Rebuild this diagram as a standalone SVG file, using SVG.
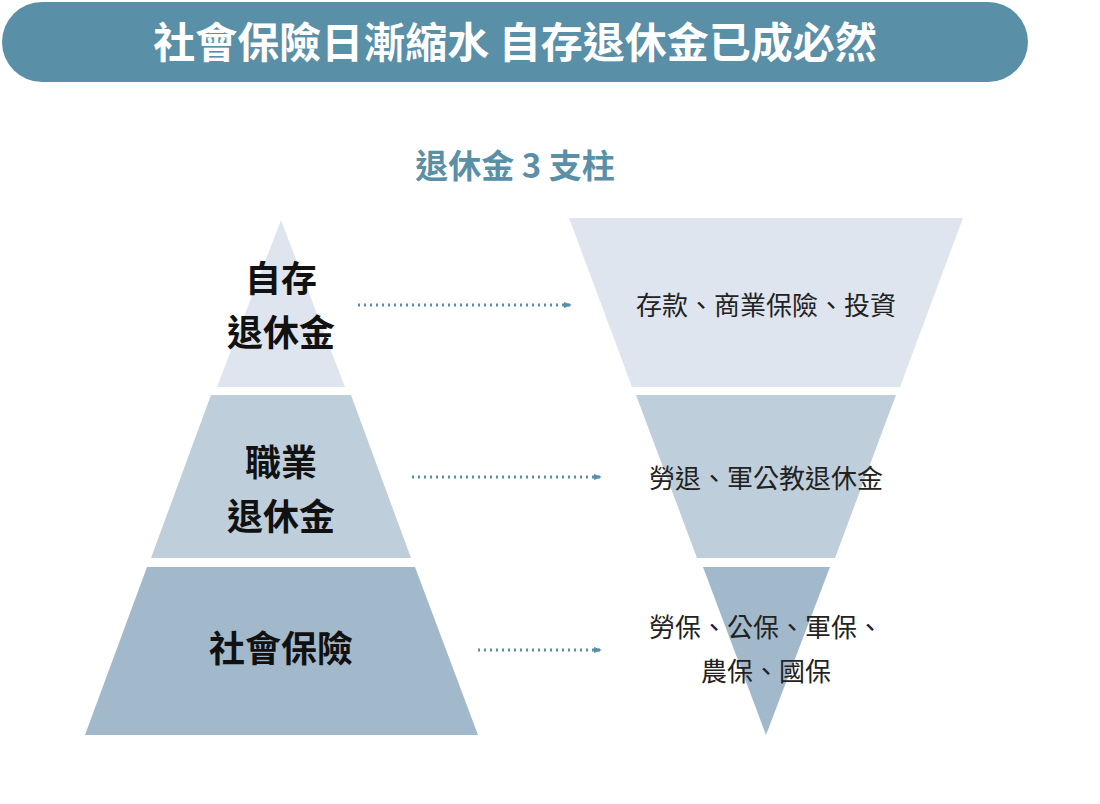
<svg xmlns="http://www.w3.org/2000/svg" width="1100" height="804" viewBox="0 0 1100 804">
<style>
text{font-family:"Noto Sans CJK TC","Noto Sans CJK SC",sans-serif;text-anchor:middle}
.l{font-size:36px;font-weight:bold;fill:#111}
.r{font-size:26px;fill:#222}
.c{stroke:#5a8fa8;stroke-width:3;stroke-dasharray:2 4;fill:none}
</style>
<defs><marker id="a" viewBox="0 0 10 10" refX="10" refY="5" markerWidth="8" markerHeight="6" markerUnits="userSpaceOnUse" orient="auto" preserveAspectRatio="none"><path d="M0 0L10 5L0 10z" fill="#5a8fa8"/></marker></defs>
<rect width="1100" height="804" fill="#fff"/>
<g id="title"><rect x="2" y="2" width="1026" height="80" rx="40" fill="#5a8fa8"/>
<text x="515" y="58" style="font-size:42px;font-weight:bold;fill:#fff">社會保險日漸縮水 自存退休金已成必然</text></g>
<g id="subtitle"><text x="515" y="178" style="font-size:33px;font-weight:bold;fill:#5a8fa8">退休金 3 支柱</text></g>
<g id="p1"><path d="M281 220L345 387H217Z" fill="#dfe5ee"/><text class="l" x="281" y="292">自存</text><text class="l" x="281" y="346">退休金</text></g>
<g id="p2"><path d="M211 395H351L411 558H151Z" fill="#bfcedb"/><text class="l" x="281" y="476">職業</text><text class="l" x="281" y="530">退休金</text></g>
<g id="p3"><path d="M147 567H415L478 735H85Z" fill="#a2b8cb"/><text class="l" x="281" y="662">社會保險</text></g>
<g id="i1"><path d="M569 218H963L900 387H632Z" fill="#dfe5ee"/><text class="r" x="766" y="315">存款、商業保險、投資</text></g>
<g id="i2"><path d="M636 395H896L835 558H697Z" fill="#bfcedb"/><text class="r" x="766" y="488">勞退、軍公教退休金</text></g>
<g id="i3"><path d="M703 567H830L766 735Z" fill="#a2b8cb"/><text class="r" x="766" y="637">勞保、公保、軍保、</text><text class="r" x="766" y="681">農保、國保</text></g>
<g id="connectors">
<path class="c" d="M358 305H572" marker-end="url(#a)"/>
<path class="c" d="M412 477H602" marker-end="url(#a)"/>
<path class="c" d="M478 650H602" marker-end="url(#a)"/>
</g>
</svg>
